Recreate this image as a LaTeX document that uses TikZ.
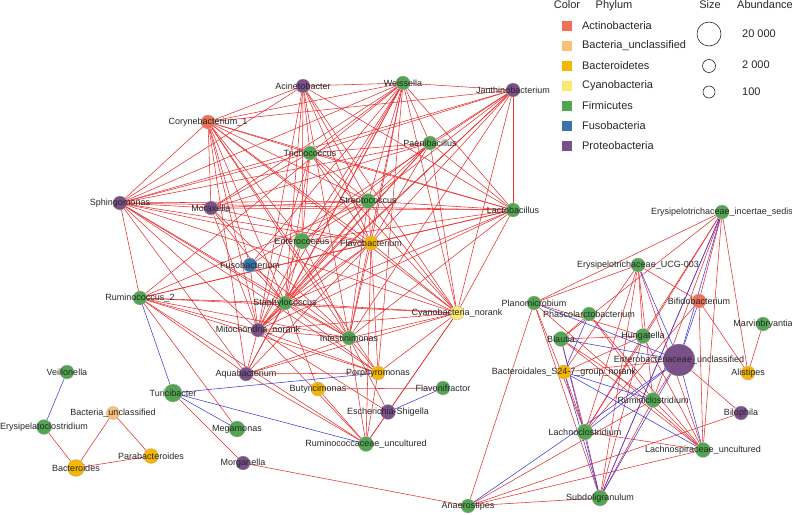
\documentclass[tikz,border=0pt]{standalone}
\usepackage{fontspec}
\setmainfont{Liberation Sans}
\usepackage{tikz}
\definecolor{actino}{RGB}{240,112,88}
\definecolor{bunc}{RGB}{250,192,122}
\definecolor{bacter}{RGB}{246,182,0}
\definecolor{cyano}{RGB}{253,232,112}
\definecolor{firmi}{RGB}{82,166,82}
\definecolor{fuso}{RGB}{56,116,170}
\definecolor{proteo}{RGB}{122,80,136}
\definecolor{posedge}{RGB}{232,48,48}
\definecolor{negedge}{RGB}{60,60,225}
\pgfdeclarelayer{background}
\pgfsetlayers{background,main}

\begin{document}
\begin{tikzpicture}[x=1pt,y=-1pt,>=stealth]
\tikzset{
  tax/.style={circle,draw=black!30,line width=.3pt,minimum size=14pt,inner sep=0pt},
  lab/.style={font=\fontsize{9}{10}\selectfont,text=black!85,inner sep=0pt},
  leg/.style={font=\fontsize{11}{12}\selectfont,text=black!85,inner sep=0pt},
  sq/.style={rectangle,minimum size=10.5pt,inner sep=0pt},
  posline/.style={draw=posedge,line width=.55pt},
  negline/.style={draw=negedge,line width=.55pt}
}
\useasboundingbox (0,0) rectangle (792,514);
% upper cluster
\node[tax,fill=proteo] (aci) at (303,86) [label={[lab]center:Acinetobacter}] {};
\node[tax,fill=firmi] (wei) at (403,83) [label={[lab]center:Weissella}] {};
\node[tax,fill=proteo] (jan) at (513,90) [label={[lab]center:Janthinobacterium}] {};
\node[tax,fill=actino] (cor) at (208,122) [label={[lab]center:Corynebacterium\_1}] {};
\node[tax,fill=firmi] (tri) at (310,153) [label={[lab]center:Trichococcus}] {};
\node[tax,fill=firmi] (pae) at (430,143) [label={[lab]center:Paenibacillus}] {};
\node[tax,fill=proteo] (sph) at (120,203) [label={[lab]center:Sphingomonas}] {};
\node[tax,fill=proteo] (mor) at (211,208) [label={[lab]center:Moraxella}] {};
\node[tax,fill=firmi,minimum size=15pt] (str) at (368,201) [label={[lab]center:Streptococcus}] {};
\node[tax,fill=firmi] (lac) at (513,210) [label={[lab]center:Lactobacillus}] {};
\node[tax,fill=firmi,minimum size=16pt] (ent) at (302,241) [label={[lab]center:Enterococcus}] {};
\node[tax,fill=bacter] (fla) at (371,243) [label={[lab]center:Flavobacterium}] {};
\node[tax,fill=fuso] (fus) at (250,265) [label={[lab]center:Fusobacterium}] {};
\node[tax,fill=firmi] (rum) at (140,298) [label={[lab]center:Ruminococcus\_2}] {};
\node[tax,fill=firmi] (sta) at (285,303) [label={[lab]center:Staphylococcus}] {};
\node[tax,fill=cyano] (cya) at (457,313) [label={[lab]center:Cyanobacteria\_norank}] {};
\node[tax,fill=proteo] (mit) at (258,330) [label={[lab]center:Mitochondria\_norank}] {};
\node[tax,fill=firmi] (int) at (349,338) [label={[lab]center:Intestinimonas}] {};
\node[tax,fill=proteo] (aqu) at (246,374) [label={[lab]center:Aquabacterium}] {};
\node[tax,fill=bacter] (por) at (378,373) [label={[lab]center:Porphyromonas}] {};
\node[tax,fill=bacter] (but) at (318,389) [label={[lab]center:Butyricimonas}] {};
\node[tax,fill=firmi,minimum size=18pt] (tur) at (173,393) [label={[lab]center:Turicibacter}] {};
\node[tax,fill=proteo,minimum size=15pt] (esc) at (388,412) [label={[lab]center:Escherichia-Shigella}] {};
\node[tax,fill=firmi,minimum size=16pt] (meg) at (237,429) [label={[lab]center:Megamonas}] {};
\node[tax,fill=firmi,minimum size=15pt] (rcu) at (366,444) [label={[lab]center:Ruminococcaceae\_uncultured}] {};
\node[tax,fill=proteo] (mga) at (243,463) [label={[lab]center:Morganella}] {};
\node[tax,fill=firmi] (flf) at (443,388) [label={[lab]center:Flavonifractor}] {};
% lower left
\node[tax,fill=firmi] (vei) at (67,372) [label={[lab]center:Veillonella}] {};
\node[tax,fill=bunc,minimum size=13pt] (bun) at (113,413) [label={[lab]center:Bacteria\_unclassified}] {};
\node[tax,fill=firmi,minimum size=15pt] (ery) at (44,427) [label={[lab]center:Erysipelatoclostridium}] {};
\node[tax,fill=bacter,minimum size=15pt] (par) at (151,456) [label={[lab]center:Parabacteroides}] {};
\node[tax,fill=bacter,minimum size=17pt] (bac) at (76,468) [label={[lab]center:Bacteroides}] {};
% right cluster
\node[tax,fill=firmi] (eis) at (722,212) [label={[lab]center:Erysipelotrichaceae\_incertae\_sedis}] {};
\node[tax,fill=firmi] (ucg) at (638,265) [label={[lab]center:Erysipelotrichaceae\_UCG-003}] {};
\node[tax,fill=firmi] (pla) at (534,303) [label={[lab]center:Planomicrobium}] {};
\node[tax,fill=firmi] (pha) at (589,314) [label={[lab]center:Phascolarctobacterium}] {};
\node[tax,fill=actino] (bif) at (699,301) [label={[lab]center:Bifidobacterium}] {};
\node[tax,fill=firmi] (mar) at (763,324) [label={[lab]center:Marvinbryantia}] {};
\node[tax,fill=firmi,minimum size=15pt] (bla) at (561,339) [label={[lab]center:Blautia}] {};
\node[tax,fill=firmi,minimum size=15pt] (hun) at (643,336) [label={[lab]center:Hungatella}] {};
\node[tax,fill=proteo,minimum size=32pt] (enu) at (679,360) [label={[lab]center:Enterobacteriaceae\_unclassified}] {};
\node[tax,fill=bacter] (ali) at (748,373) [label={[lab]center:Alistipes}] {};
\node[tax,fill=bacter] (s24) at (564,372) [label={[lab]center:Bacteroidales\_S24-7\_group\_norank}] {};
\node[tax,fill=firmi,minimum size=15pt] (rcl) at (653,400) [label={[lab]center:Ruminiclostridium}] {};
\node[tax,fill=proteo] (bil) at (741,413) [label={[lab]center:Bilophila}] {};
\node[tax,fill=firmi,minimum size=16pt] (lcl) at (585,432) [label={[lab]center:Lachnoclostridium}] {};
\node[tax,fill=firmi,minimum size=15pt] (lsp) at (703,450) [label={[lab]center:Lachnospiraceae\_uncultured}] {};
\node[tax,fill=firmi,minimum size=16pt] (sub) at (600,498) [label={[lab]center:Subdoligranulum}] {};
\node[tax,fill=firmi] (ana) at (468,506) [label={[lab]center:Anaerostipes}] {};
% edges
\begin{pgfonlayer}{background}
\foreach \a/\b in {aci/wei,aci/cor,aci/sph,aci/tri,aci/str,aci/lac,aci/ent,aci/fla,aci/mit,aci/sta,aci/int,aci/cya,
  wei/jan,wei/cor,wei/sph,wei/tri,wei/mor,wei/pae,wei/lac,wei/str,wei/ent,wei/fla,wei/fus,wei/rum,wei/sta,wei/mit,wei/int,wei/aqu,wei/cya,wei/por,
  jan/pae,jan/lac,jan/cor,jan/tri,jan/sph,jan/str,jan/fla,jan/sta,jan/mit,jan/cya,jan/int,jan/fus,
  cor/sph,cor/mor,cor/tri,cor/str,cor/lac,cor/ent,cor/fla,cor/fus,cor/sta,cor/mit,cor/int,cor/cya,cor/aqu,cor/por,
  tri/sph,tri/mor,tri/str,tri/lac,tri/pae,tri/ent,tri/fla,tri/sta,tri/mit,tri/cya,
  pae/sph,pae/mor,pae/str,pae/ent,pae/fla,pae/sta,pae/mit,pae/lac,pae/cya,
  sph/mor,sph/str,sph/lac,sph/ent,sph/fla,sph/rum,sph/sta,sph/mit,sph/int,sph/cya,sph/aqu,sph/por,
  mor/str,mor/lac,mor/fla,mor/sta,mor/mit,mor/int,
  str/lac,str/ent,str/fla,str/sta,str/mit,str/int,str/cya,str/rum,
  lac/fla,lac/sta,lac/mit,lac/cya,lac/int,lac/ent,lac/rum,
  ent/fla,ent/sta,ent/mit,ent/cya,ent/int,
  fla/sta,fla/mit,fla/int,fla/cya,fla/aqu,fla/por,fla/rum,fla/rcu,
  fus/sta,fus/mit,fus/int,
  rum/sta,rum/mit,rum/int,rum/cya,rum/aqu,rum/por,rum/meg,rum/rcu,
  sta/mit,sta/int,sta/cya,sta/aqu,sta/por,sta/but,
  mit/int,mit/cya,mit/aqu,mit/por,mit/rcu,mit/esc,
  int/cya,int/aqu,int/por,int/rcu,int/esc,
  cya/aqu,cya/por,cya/esc,cya/rcu,aqu/por,aqu/rcu,por/rcu,
  but/flf,but/rcu,esc/rcu,tur/mga,mga/ana,
  ery/bac,bac/bun,bun/par,bac/par,
  eis/pla,eis/bla,eis/lcl,eis/ali,eis/hun,eis/bif,eis/lsp,eis/rcl,
  ucg/pla,ucg/bif,ucg/lsp,ucg/lcl,ucg/s24,ucg/rcl,ucg/hun,
  bif/lsp,bif/lcl,bif/ali,mar/ali,
  pla/sub,pla/ana,pla/lcl,pla/hun,pla/lsp,
  pha/rcl,pha/bla,pha/lsp,
  bla/hun,bla/rcl,bla/lsp,bla/lcl,
  hun/sub,hun/lcl,hun/lsp,
  s24/enu,s24/lcl,s24/hun,
  rcl/lsp,rcl/sub,rcl/ana,bil/ana,bil/enu,
  lcl/lsp,lcl/sub,lsp/ana,sub/ana,sub/ucg,sub/eis,enu/rcl}
  \draw[posline] (\a) -- (\b);
\foreach \a/\b in {rum/tur,tur/por,tur/rcu,tur/meg,esc/flf,vei/ery,
  eis/enu,eis/sub,ucg/enu,bif/enu,pla/enu,bla/enu,bla/sub,pha/s24,
  s24/rcl,s24/lsp,s24/sub,lcl/enu,sub/enu,lsp/enu,ana/enu}
  \draw[negline] (\a) -- (\b);
\end{pgfonlayer}
% legend
\node[leg,anchor=base] (hcol) at (567,9) {Color};
\node[leg,anchor=base] (hphy) at (614,9) {Phylum};
\node[leg,anchor=base] (hsiz) at (710,9) {Size};
\node[leg,anchor=base] (habu) at (765,9) {Abundance};
\foreach \c/\t [count=\i] in {actino/Actinobacteria,bunc/Bacteria\_unclassified,bacter/Bacteroidetes,
  cyano/Cyanobacteria,firmi/Firmicutes,fuso/Fusobacteria,proteo/Proteobacteria}
  \node[sq,fill=\c] (sq\i) at (567,6+20*\i) [label={[leg,anchor=west,xshift=9.5pt]right:\t}] {};
\node[circle,draw=black!85,line width=.6pt,minimum size=24pt,inner sep=0pt] (sz1) at (709,34) {};
\node[circle,draw=black!85,line width=.6pt,minimum size=13pt,inner sep=0pt] (sz2) at (709,66) {};
\node[circle,draw=black!85,line width=.6pt,minimum size=12pt,inner sep=0pt] (sz3) at (709,92) {};
\node[leg,anchor=west] (ab1) at (742,34) {20 000};
\node[leg,anchor=west] (ab2) at (742,65) {2 000};
\node[leg,anchor=west] (ab3) at (742,92) {100};
\end{tikzpicture}
\end{document}
